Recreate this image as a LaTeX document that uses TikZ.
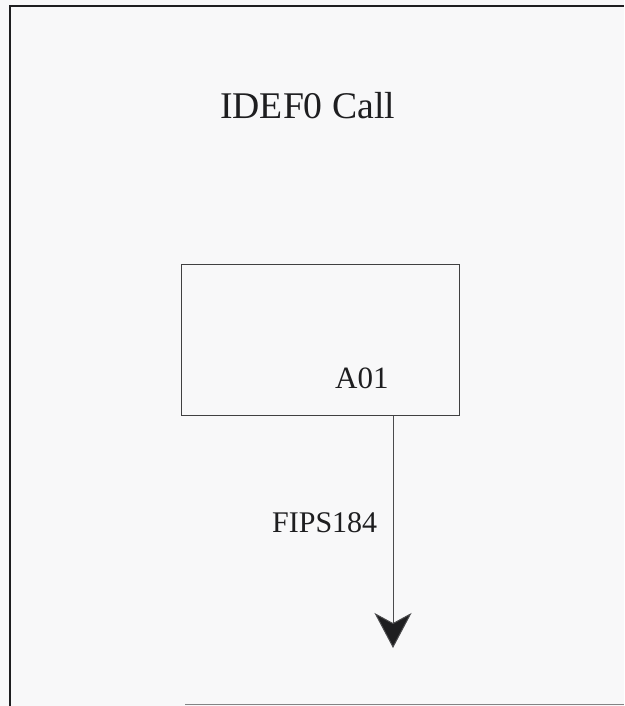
\documentclass[tikz,border=0pt]{standalone}
\usepackage{fontspec}
\setmainfont{Liberation Serif}
\usetikzlibrary{arrows.meta}
\definecolor{bgcol}{RGB}{248,248,249}
\definecolor{inkcol}{RGB}{30,30,32}
\begin{document}
\begin{tikzpicture}[x=1pt,y=-1pt,
  frameline/.style={draw=inkcol,line width=2pt},
  boxstyle/.style={draw=inkcol!85,line width=1pt,minimum width=278pt,minimum height=151pt,inner sep=0pt},
  lbl/.style={inner sep=0pt,anchor=base west,text=inkcol},
  flow/.style={draw=inkcol!80,line width=1pt,-{Stealth[length=35pt,width=37pt,inset=10pt,fill=inkcol]}}]
  \fill[bgcol] (0,0) rectangle (624,706);
  \useasboundingbox (0,0) rectangle (624,706);
  % frame
  \draw[frameline] (10,706) -- (10,6) -- (624,6);
  \draw[inkcol!55,line width=1pt] (185,704.5) -- (624,704.5);
  % title
  \node[lbl,font=\fontsize{37.7}{40}\selectfont] (title) at (220,118) {IDEF0 Call};
  % activity box
  \node[boxstyle] (box) at (320,339.5) {};
  \node[lbl,font=\fontsize{31}{34}\selectfont] (a01) at (335,388) {A01};
  % output arrow
  \coordinate (tip) at (393,648);
  \draw[flow] (box.south -| tip) -- (tip);
  \node[lbl,font=\fontsize{30}{33}\selectfont] (fips) at (272,532) {FIPS184};
\end{tikzpicture}
\end{document}
